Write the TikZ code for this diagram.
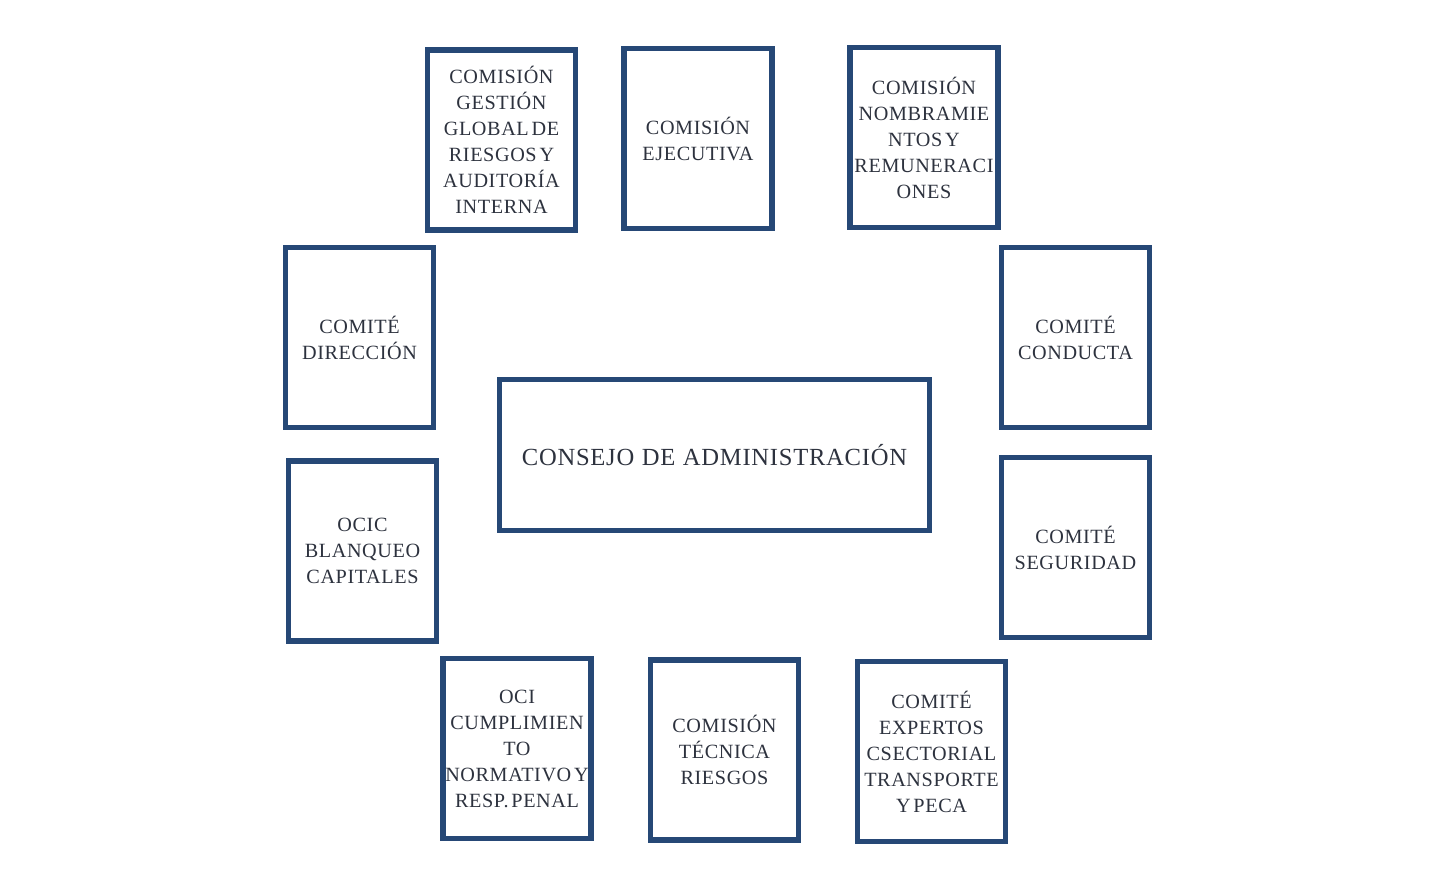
\documentclass[tikz,border=0pt]{standalone}
\usepackage{fontspec}
\setmainfont{Liberation Serif}[LetterSpace=3,WordSpace=0.5]
\newfontfamily\titulofont{Liberation Serif}[LetterSpace=3,WordSpace=1.1]
\usepackage{tikz}

\definecolor{marco}{RGB}{38,72,118}
\definecolor{letra}{RGB}{45,50,62}

\begin{document}
\begin{tikzpicture}[x=0.02cm,y=-0.02cm]
\tikzstyle{every node}=[draw=marco,line width=2.9pt,rectangle,text=letra,align=center,font=\fontsize{11.5}{14.8}\selectfont]
\tikzstyle{comision}=[minimum width=2.96cm,minimum height=3.6cm,inner sep=0pt]
\tikzstyle{consejo}=[minimum width=8.6cm,minimum height=3.02cm,font=\titulofont\fontsize{14}{17}\selectfont]

\useasboundingbox (0,0) rectangle (1447,885);

% consejo en el centro
\node[consejo] (consejo) at (714.5,455) {CONSEJO DE ADMINISTRACIÓN};

% fila de arriba
\node[comision] (gestion) at (501.5,140) {COMISIÓN\\GESTIÓN\\GLOBAL DE\\RIESGOS Y\\AUDITORÍA\\INTERNA};
\node[comision] (ejecutiva) at (698,138.5) {COMISIÓN\\EJECUTIVA};
\node[comision] (nombram) at (924,137.5) {COMISIÓN\\NOMBRAMIE\\NTOS Y\\REMUNERACI\\ONES};

% lados
\node[comision] (direccion) at (359.5,337.5) {COMITÉ\\DIRECCIÓN};
\node[comision] (ocic) at (362.5,551) {OCIC\\BLANQUEO\\CAPITALES};
\node[comision] (conducta) at (1075.5,337.5) {COMITÉ\\CONDUCTA};
\node[comision] (seguridad) at (1075.5,547.5) {COMITÉ\\SEGURIDAD};

% fila de abajo
\node[comision] (oci) at (517,748.5) {OCI\\CUMPLIMIEN\\TO\\NORMATIVO Y\\RESP. PENAL};
\node[comision] (tecnica) at (724.5,750) {COMISIÓN\\TÉCNICA\\RIESGOS};
\node[comision] (expertos) at (931.5,751.5) {COMITÉ\\EXPERTOS\\CSECTORIAL\\TRANSPORTE\\Y PECA};

\end{tikzpicture}
\end{document}
